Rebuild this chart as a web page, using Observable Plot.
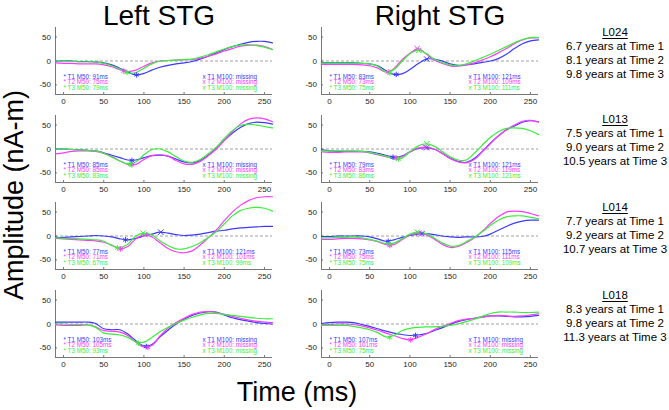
<!DOCTYPE html>
<html><head><meta charset="utf-8">
<script src="https://cdn.jsdelivr.net/npm/d3@7"></script>
<script src="https://cdn.jsdelivr.net/npm/@observablehq/plot@0.6"></script>
<style>
html,body{margin:0;padding:0;background:#fff;}
#fig{position:relative;width:669px;height:410px;overflow:hidden;font-family:"Liberation Sans",Arial,sans-serif;color:#000;}
.abs{position:absolute;white-space:nowrap;}
.big{font-size:28px;line-height:24px;}
.subj{font-size:11.5px;line-height:14px;text-align:center;width:130px;}
.subj u{text-decoration:underline;text-underline-offset:2px;}
</style></head><body><div id="fig"></div>
<script>
// ---------- data ----------
const times = [-10,0,10,20,30,40,50,60,70,80,90,100,110,120,130,140,150,160,170,180,190,200,210,220,230,240,250,260];
const xDomain = [-10, 260];
const yDomain = [-70, 70];
const xTicks = [0, 50, 100, 150, 200, 250];
const yTicks = [-50, 0, 50];
const timepoints = ["T1", "T2", "T3"];
const lineColors = ["#3a3aff", "#ff3aff", "#3aef3a"];
const hemispheres = ["Left STG", "Right STG"];
const subjects = ["L024", "L013", "L014", "L018"];
const ageT1 = ["6.7", "7.5", "7.7", "8.3"];
const ageT2 = ["8.1", "9.0", "9.2", "9.8"];
const ageT3 = ["9.8", "10.5", "10.7", "11.3"];
const xLabel = "Time (ms)";
const yLabel = "Amplitude (nA-m)";

// L024
const L024_left_T1  = [0,0,0,-1,-1,-2,-4,-8,-15,-23,-29,-26,-19,-13,-9,-6,-4,-1,4,10,17,24,30,35,39,41,41,38];
const L024_left_T2  = [-4,-5,-5,-6,-6,-6,-8,-12,-18,-22,-19,-11,-4,0,1,2,3,3,6,10,15,21,26,31,33,33,30,24];
const L024_left_T3  = [0,-1,-1,-2,-2,-2,-5,-10,-17,-25,-24,-15,-6,0,1,2,3,4,8,13,19,25,30,33,34,32,29,24];
const L024_right_T1 = [-4,-4,-4,-4,-4,-5,-6,-10,-20,-28,-27,-18,-6,4,4,0,-6,-9,-8,-6,-3,0,5,14,26,36,42,44];
const L024_right_T2 = [-7,-7,-7,-7,-7,-8,-10,-15,-23,-16,2,16,26,15,2,-5,-10,-11,-8,-4,2,9,17,26,36,44,48,49];
const L024_right_T3 = [-5,-5,-5,-5,-5,-5,-6,-11,-23,-18,-1,15,22,16,4,-3,-8,-10,-6,0,7,14,22,30,38,45,49,49];
// L013
const L013_left_T1  = [0,0,-1,-2,-3,-4,-8,-13,-18,-23,-23,-18,-14,-13,-15,-21,-27,-29,-24,-13,1,18,33,45,53,56,55,52];
const L013_left_T2  = [-10,-8,-5,-4,-4,-5,-9,-16,-25,-32,-32,-22,-14,-12,-15,-24,-31,-32,-26,-14,0,18,36,52,62,65,63,57];
const L013_left_T3  = [0,0,-1,-2,-3,-4,-9,-17,-25,-31,-27,-12,-1,0,-6,-16,-25,-28,-22,-10,4,22,38,49,52,50,47,44];
const L013_right_T1 = [-2,-4,-5,-5,-5,-5,-6,-9,-13,-17,-15,-6,1,3,0,-9,-19,-26,-28,-20,-5,12,27,40,48,56,59,57];
const L013_right_T2 = [-6,-7,-7,-6,-6,-6,-8,-12,-16,-19,-16,-6,2,4,0,-9,-20,-27,-29,-22,-6,11,27,40,50,58,60,56];
const L013_right_T3 = [-4,-4,-4,-4,-4,-5,-7,-11,-15,-20,-19,-6,6,11,6,-5,-16,-23,-23,-9,8,24,36,43,44,43,38,30];
// L014
const L014_left_T1  = [-3,-3,-2,-1,0,1,0,-2,-6,-8,-5,0,4,8,6,3,1,2,4,7,10,12,15,17,18,19,20,20];
const L014_left_T2  = [-5,-6,-7,-8,-9,-10,-13,-19,-27,-22,-6,3,-2,-14,-26,-33,-35,-31,-19,-4,12,32,50,64,74,80,82,82];
const L014_left_T3  = [-4,-5,-5,-6,-7,-8,-11,-20,-24,-17,0,6,2,-10,-20,-27,-27,-22,-14,-3,9,25,42,53,58,60,58,52];
const L014_right_T1 = [-1,-1,0,0,0,0,-2,-6,-11,-8,-3,1,4,5,3,0,-2,-3,-2,-2,-1,4,12,20,27,31,33,33];
const L014_right_T2 = [-7,-7,-6,-5,-5,-6,-8,-12,-18,-18,-8,2,6,3,-6,-17,-24,-22,-14,-4,10,26,40,50,52,51,47,42];
const L014_right_T3 = [-4,-4,-3,-3,-2,-4,-7,-11,-16,-15,-6,4,8,5,-4,-14,-21,-20,-12,-3,9,22,33,40,42,42,39,36];
// L018
const L018_left_T1  = [4,4,4,4,4,1,-10,-12,-12,-21,-35,-46,-43,-27,-13,0,10,18,23,26,25,19,13,9,6,3,1,0];
const L018_left_T2  = [-2,-3,-3,-3,-2,-6,-14,-15,-17,-24,-38,-48,-45,-25,-9,3,12,20,25,26,24,20,16,12,8,6,4,3];
const L018_left_T3  = [0,0,-1,-1,-2,-7,-19,-21,-23,-28,-37,-38,-28,-16,-7,1,8,14,19,22,22,20,18,16,14,12,11,11];
const L018_right_T1 = [1,3,4,4,3,-1,-5,-10,-15,-19,-22,-24,-23,-20,-14,-8,-1,5,9,12,15,17,17,16,15,15,16,18];
const L018_right_T2 = [-2,-1,0,0,-1,-4,-8,-13,-19,-24,-30,-33,-28,-21,-12,-5,1,7,10,12,14,17,18,17,16,17,19,21];
const L018_right_T3 = [-3,-3,-3,-3,-5,-8,-12,-18,-27,-24,-14,-9,-7,-6,-6,-5,-3,0,5,10,16,22,25,25,25,24,24,25];

// peak latencies (ms) and amplitudes (nA-m), panel order: L024 L/R, L013 L/R, L014 L/R, L018 L/R
const m50Latency = [[91,75,79],[83,73,75],[85,85,83],[79,83,86],[77,71,67],[73,75,75],[103,105,93],[107,101,75]];
const m50Amp     = [[-29,-21,-24],[-28,-23,-25],[-24,-33,-32],[-17,-19,-21],[-8,-27,-25],[-11,-20,-17],[-47,-49,-40],[-24,-33,-28]];
const m100Latency = [[null,null,null],[121,109,111],[null,null,null],[121,119,121],[121,101,99],[115,111,109],[null,null,null],[null,null,null]];
const m100Amp     = [[null,null,null],[4,26,22],[null,null,null],[3,4,11],[8,3,6],[5,6,8],[null,null,null],[null,null,null]];

const panelCurves = [
  [L024_left_T1, L024_left_T2, L024_left_T3], [L024_right_T1, L024_right_T2, L024_right_T3],
  [L013_left_T1, L013_left_T2, L013_left_T3], [L013_right_T1, L013_right_T2, L013_right_T3],
  [L014_left_T1, L014_left_T2, L014_left_T3], [L014_right_T1, L014_right_T2, L014_right_T3],
  [L018_left_T1, L018_left_T2, L018_left_T3], [L018_right_T1, L018_right_T2, L018_right_T3]
];

// ---------- layout ----------
const fig = document.getElementById("fig");
const FONT = "'Liberation Sans', Arial, sans-serif";
const axisColor = "#555";
const innerW = 217, innerH = 67;
const mL = 30, mR = 12, mT = 10, mB = 18;
const colLeft = [55, 321];
const rowTop0 = 27.1, rowStep = 87.6;

function panel(p) {
  const row = Math.floor(p / 2), col = p % 2;
  const lineData = panelCurves[p].flatMap((vals, t) => vals.map((v, i) => ({time: times[i], amp: v, tp: timepoints[t]})));
  const m50 = timepoints.map((tp, t) => ({time: m50Latency[p][t], amp: m50Amp[p][t], tp}));
  const m100 = timepoints.map((tp, t) => ({time: m100Latency[p][t], amp: m100Amp[p][t], tp})).filter(d => d.time != null);
  const legendDy = [-16, -10.3, -4.6];
  const kx = innerW / (xDomain[1] - xDomain[0]);
  const legendMarks = timepoints.flatMap((tp, t) => [
    Plot.text([`* ${tp} M50: ${m50Latency[p][t]}ms`], {text: d => d, frameAnchor: "bottom-left", dx: (0 - xDomain[0]) * kx, dy: legendDy[t], fill: lineColors[t], fontSize: 6.3, textAnchor: "start"}),
    Plot.text([`x ${tp} M100: ${m100Latency[p][t] == null ? "missing" : m100Latency[p][t] + "ms"}`], {text: d => d, frameAnchor: "bottom-left", dx: (173 - xDomain[0]) * kx, dy: legendDy[t], fill: lineColors[t], fontSize: 6.3, textAnchor: "start"})
  ]);
  const svg = Plot.plot({
    width: mL + innerW + mR, height: mT + innerH + mB,
    marginLeft: mL, marginRight: mR, marginTop: mT, marginBottom: mB,
    x: {domain: xDomain, ticks: xTicks, tickSize: 0, tickPadding: 4, label: null, tickFormat: d => `${d}`},
    y: {domain: yDomain, ticks: yTicks, tickSize: 0, tickPadding: 4.5, label: null, tickFormat: d => `${d}`},
    color: {domain: timepoints, range: lineColors},
    style: {fontFamily: FONT, fontSize: "8px", color: "#262626", background: "transparent", overflow: "visible"},
    marks: [
      Plot.ruleY([0], {stroke: "#888", strokeDasharray: "3,2", strokeWidth: 0.8}),
      Plot.ruleX([xDomain[0]], {stroke: axisColor, strokeWidth: 0.8}),
      Plot.ruleY([yDomain[0]], {stroke: axisColor, strokeWidth: 0.8}),
      Plot.ruleX(xTicks, {insetTop: innerH - 2, stroke: axisColor, strokeWidth: 0.8}),
      Plot.ruleY(yTicks, {insetRight: innerW - 2, stroke: axisColor, strokeWidth: 0.8}),
      Plot.line(lineData, {x: "time", y: "amp", z: "tp", stroke: "tp", curve: "catmull-rom", strokeWidth: 1.2}),
      Plot.dot(m50, {x: "time", y: "amp", stroke: "tp", symbol: "asterisk", r: 2.6, strokeWidth: 1}),
      Plot.dot(m100, {x: "time", y: "amp", stroke: "tp", symbol: "times", r: 2.6, strokeWidth: 1}),
      ...legendMarks
    ]
  });
  svg.style.position = "absolute";
  svg.style.left = (colLeft[col] - mL) + "px";
  svg.style.top = (rowTop0 + rowStep * row - mT) + "px";
  fig.appendChild(svg);
}
for (let p = 0; p < 8; p++) panel(p);

function addText(html, cls, css) {
  const d = document.createElement("div");
  d.className = "abs " + cls;
  d.innerHTML = html;
  Object.assign(d.style, css);
  fig.appendChild(d);
  return d;
}
addText(hemispheres[0], "big", {left: "159px", top: "4px", transform: "translateX(-50%)"});
addText(hemispheres[1], "big", {left: "440px", top: "4px", transform: "translateX(-50%)"});
addText(xLabel, "big", {left: "297px", top: "380px", transform: "translateX(-50%)", fontSize: "27px", lineHeight: "24px"});
addText(yLabel, "big", {left: "14px", top: "195px", transform: "translate(-50%,-50%) rotate(-90deg)", fontSize: "27px", lineHeight: "24px"});
subjects.forEach((s, i) => {
  addText(`<u>${s}</u><br>${ageT1[i]} years at Time 1<br>${ageT2[i]} years at Time 2<br>${ageT3[i]} years at Time 3`,
    "subj", {left: (615 - 65) + "px", top: (24.8 + rowStep * i) + "px"});
});
</script></body></html>
